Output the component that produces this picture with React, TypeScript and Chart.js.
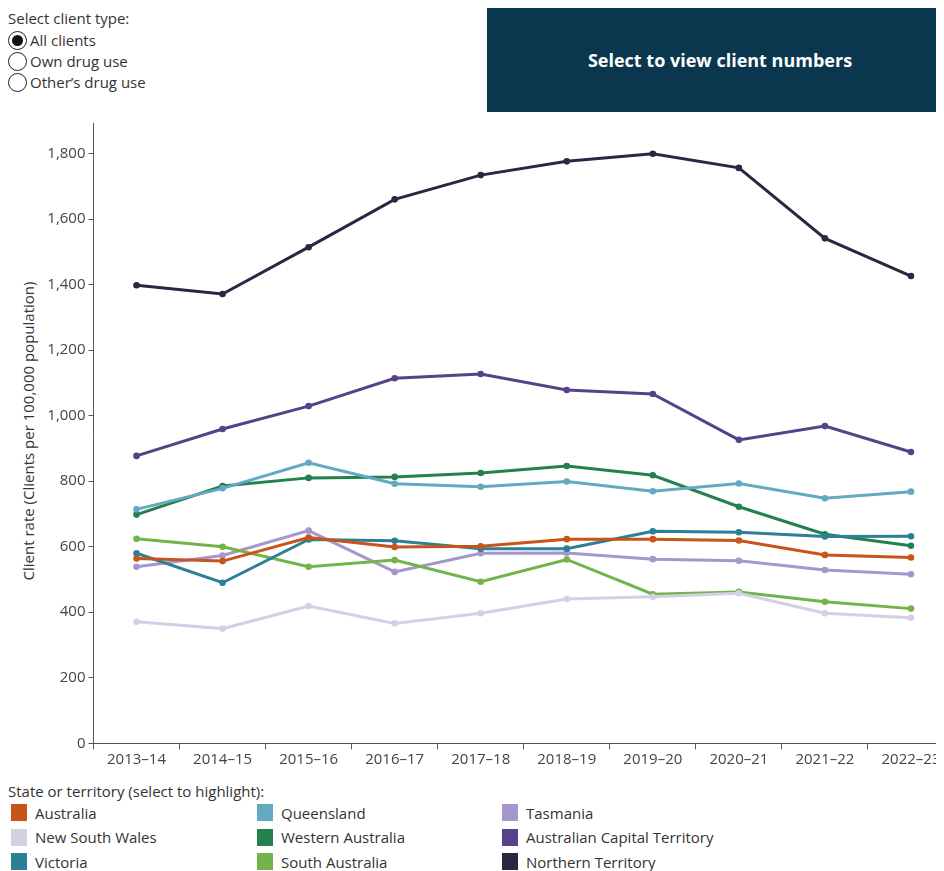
import React, { useEffect, useRef } from "react";
import { Chart, registerables } from "chart.js";

Chart.register(...registerables);

const categories = ["2013–14", "2014–15", "2015–16", "2016–17", "2017–18", "2018–19", "2019–20", "2020–21", "2021–22", "2022–23"];

const australia = [564, 556, 628, 599, 601, 623, 623, 619, 575, 567];
const newSouthWales = [371, 350, 419, 366, 397, 440, 447, 458, 397, 383];
const victoria = [580, 490, 622, 618, 594, 594, 647, 644, 631, 632];
const queensland = [714, 778, 856, 792, 783, 799, 769, 793, 748, 768];
const westernAustralia = [698, 785, 810, 813, 825, 846, 818, 722, 638, 603];
const southAustralia = [624, 600, 539, 559, 493, 561, 455, 462, 432, 411];
const tasmania = [539, 573, 649, 523, 580, 581, 562, 557, 529, 516];
const act = [877, 959, 1029, 1114, 1127, 1078, 1066, 926, 968, 889];
const northernTerritory = [1398, 1371, 1514, 1660, 1734, 1776, 1799, 1756, 1541, 1426];

const yTicks = [0, 200, 400, 600, 800, 1000, 1200, 1400, 1600, 1800];

const seriesNames = ["Australia", "New South Wales", "Victoria", "Queensland", "Western Australia", "South Australia", "Tasmania", "Australian Capital Territory", "Northern Territory"];
const seriesValues = [australia, newSouthWales, victoria, queensland, westernAustralia, southAustralia, tasmania, act, northernTerritory];
const seriesColors = ["#c8541a", "#d3d0e6", "#2b7f96", "#63a9c2", "#23814f", "#73b44a", "#a597cb", "#574189", "#2b2641"];

const legendColumns = [
  ["Australia", "New South Wales", "Victoria"],
  ["Queensland", "Western Australia", "South Australia"],
  ["Tasmania", "Australian Capital Territory", "Northern Territory"],
];

const FONT = "'Open Sans', 'Noto Sans', sans-serif";

function Radio({ label, checked, top }: { label: string; checked: boolean; top: number }) {
  return (
    <div style={{ position: "absolute", left: 0, top, height: 20, display: "flex", alignItems: "center" }}>
      <div
        style={{
          width: 17,
          height: 17,
          borderRadius: "50%",
          border: "1.3px solid #222",
          boxSizing: "content-box",
          display: "flex",
          alignItems: "center",
          justifyContent: "center",
          background: "#fff",
        }}
      >
        {checked && <div style={{ width: 11, height: 11, borderRadius: "50%", background: "#111" }} />}
      </div>
      <span style={{ marginLeft: 3, fontSize: 15, color: "#333", fontFamily: FONT }}>{label}</span>
    </div>
  );
}

export default function App() {
  const canvasRef = useRef<HTMLCanvasElement | null>(null);

  useEffect(() => {
    document.documentElement.style.overflow = "hidden";
    document.body.style.overflow = "hidden";
    if (!canvasRef.current) return;
    const chart = new Chart(canvasRef.current, {
      type: "line",
      data: {
        labels: categories,
        datasets: seriesNames.map((name, i) => ({
          label: name,
          data: seriesValues[i],
          borderColor: seriesColors[i],
          backgroundColor: seriesColors[i],
          pointBackgroundColor: seriesColors[i],
          pointBorderColor: seriesColors[i],
          borderWidth: 3,
          pointRadius: 3.3,
          pointBorderWidth: 0,
          tension: 0,
          fill: false,
        })),
      },
      options: {
        animation: false,
        responsive: false,
        maintainAspectRatio: false,
        layout: { padding: { top: 0, right: 3, left: 0, bottom: 0 } },
        plugins: { legend: { display: false }, tooltip: { enabled: false }, title: { display: false } },
        scales: {
          x: {
            type: "category",
            offset: true,
            grid: { display: true, drawOnChartArea: false, drawTicks: true, tickLength: 6, color: "#555", offset: true },
            border: { display: true, color: "#555", width: 1 },
            ticks: { color: "#444", font: { family: FONT, size: 15 }, padding: 1, maxRotation: 0, autoSkip: false },
            afterFit: (scale: any) => {
              scale.height = 31.7;
            },
          },
          y: {
            type: "linear",
            min: 0,
            max: 1893,
            grid: { display: true, drawOnChartArea: false, drawTicks: true, tickLength: 5, color: "#555" },
            border: { display: true, color: "#555", width: 1 },
            ticks: {
              stepSize: 200,
              includeBounds: false,
              color: "#444",
              padding: 3,
              font: { family: FONT, size: 15 },
              callback: (v: any) => (yTicks.includes(Number(v)) ? Number(v).toLocaleString("en-US") : ""),
            },
            afterFit: (scale: any) => {
              scale.width = 85.5;
            },
          },
        },
      },
    });
    return () => chart.destroy();
  }, []);

  return (
    <div style={{ position: "relative", width: 960, height: 863, overflow: "hidden", fontFamily: FONT }}>
      <div style={{ position: "absolute", left: 0, top: 0, fontSize: 15, color: "#333" }}>Select client type:</div>
      <Radio label="All clients" checked={true} top={22} />
      <Radio label="Own drug use" checked={false} top={43} />
      <Radio label="Other’s drug use" checked={false} top={64} />

      <div
        style={{
          position: "absolute",
          left: 479,
          top: 0,
          width: 470,
          height: 104,
          background: "#0b374e",
          color: "#fff",
          display: "flex",
          alignItems: "center",
          justifyContent: "center",
          fontWeight: 700,
          fontSize: 18,
          boxSizing: "border-box",
          paddingRight: 4,
        }}
      >
        Select to view client numbers
      </div>

      <div
        style={{
          position: "absolute",
          left: 20,
          top: 423,
          transform: "translate(-50%, -50%) rotate(-90deg)",
          whiteSpace: "nowrap",
          fontSize: 15,
          color: "#333",
        }}
      >
        Client rate (Clients per 100,000 population)
      </div>

      <canvas ref={canvasRef} width={950} height={664} style={{ position: "absolute", left: 0, top: 103, width: 950, height: 664 }} />

      <div style={{ position: "absolute", left: 0, top: 773, fontSize: 15, color: "#333" }}>
        State or territory (select to highlight):
      </div>
      {legendColumns.map((col, ci) =>
        col.map((name, ri) => {
          const idx = seriesNames.indexOf(name);
          const lefts = [3, 249, 494];
          return (
            <div
              key={name}
              style={{ position: "absolute", left: lefts[ci], top: 796 + ri * 24.5, height: 17, display: "flex", alignItems: "center" }}
            >
              <div style={{ width: 16, height: 17, background: seriesColors[idx] }} />
              <span style={{ marginLeft: 8, fontSize: 15, color: "#333" }}>{name}</span>
            </div>
          );
        })
      )}
    </div>
  );
}
